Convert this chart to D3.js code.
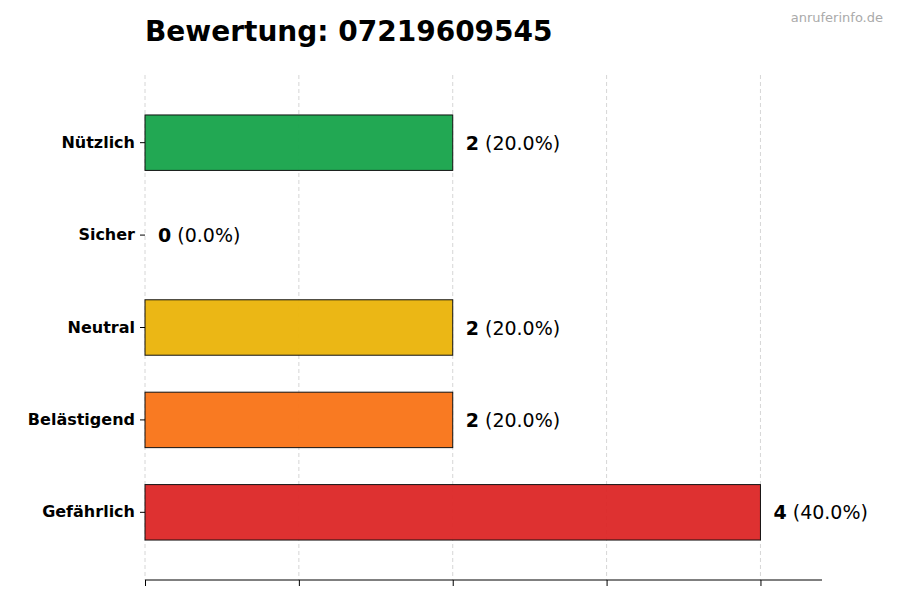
<!DOCTYPE html>
<html><head><meta charset="utf-8">
<script src="https://cdn.jsdelivr.net/npm/d3@7"></script>
<style>body{margin:0;background:#fff;font-family:"DejaVu Sans",sans-serif}</style>
</head><body><div id="chart"></div>
<script>
// daten
const kategorien = ["Nützlich", "Sicher", "Neutral", "Belästigend", "Gefährlich"];
const anzahl = [2, 0, 2, 2, 4];
const farben = ["#16a34a", "#6b7280", "#eab308", "#f97316", "#dc2626"];
const xTicks = [0, 1, 2, 3, 4];

const width = 900, height = 600;
const mLeft = 145, mRight = 822, mTop = 78, mBottom = 577, axisY = 580;
const total = d3.sum(anzahl);

const svg = d3.select("#chart").append("svg").attr("width", width).attr("height", height);

const x = d3.scaleLinear().domain([0, 4.4]).range([mLeft, mRight]);
const y = d3.scaleBand().domain(kategorien).range([mTop, mBottom]).padding(0.4);

// gitter
svg.append("g").selectAll("line").data(xTicks).enter().append("line")
    .attr("x1", d => x(d)).attr("x2", d => x(d))
    .attr("y1", 75).attr("y2", axisY)
    .attr("stroke", "#ccc").attr("stroke-dasharray", "4,3").attr("stroke-width", 0.8);

// balken
svg.append("g").selectAll("rect").data(kategorien).enter().append("rect")
    .attr("x", x(0)).attr("y", d => y(d))
    .attr("width", (d, i) => x(anzahl[i]) - x(0))
    .attr("height", y.bandwidth())
    .attr("fill", (d, i) => farben[i]).attr("fill-opacity", 0.95)
    .attr("stroke", "#111").attr("stroke-width", 1);

// werte
const lab = svg.append("g").selectAll("text").data(kategorien).enter().append("text")
    .attr("x", (d, i) => x(anzahl[i]) + 13)
    .attr("y", d => y(d) + y.bandwidth() / 2)
    .attr("dominant-baseline", "central")
    .attr("font-size", 19);
lab.append("tspan").attr("font-weight", "bold").text((d, i) => anzahl[i]);
lab.append("tspan").text((d, i) => " (" + (anzahl[i] / total * 100).toFixed(1) + "%)");

// achsen
const xAxis = svg.append("g").attr("transform", "translate(0," + axisY + ")")
    .call(d3.axisBottom(x).tickValues(xTicks).tickFormat("").tickSize(6).tickSizeOuter(0));
xAxis.select(".domain").attr("d", "M" + mLeft + ",0H" + mRight);

const yAxis = svg.append("g").attr("transform", "translate(" + mLeft + ",0)")
    .call(d3.axisLeft(y).tickSize(5).tickPadding(5));
yAxis.select(".domain").remove();
yAxis.selectAll("text").attr("font-size", 16).attr("font-weight", "bold")
    .attr("font-family", "DejaVu Sans").attr("fill", "#000");

// titel
svg.append("text").attr("x", mLeft).attr("y", 41)
    .attr("font-size", 28).attr("font-weight", "bold").text("Bewertung: 07219609545");
svg.append("text").attr("x", 883).attr("y", 22).attr("text-anchor", "end")
    .attr("font-size", 13).attr("fill", "#aaa").text("anruferinfo.de");
</script></body></html>
